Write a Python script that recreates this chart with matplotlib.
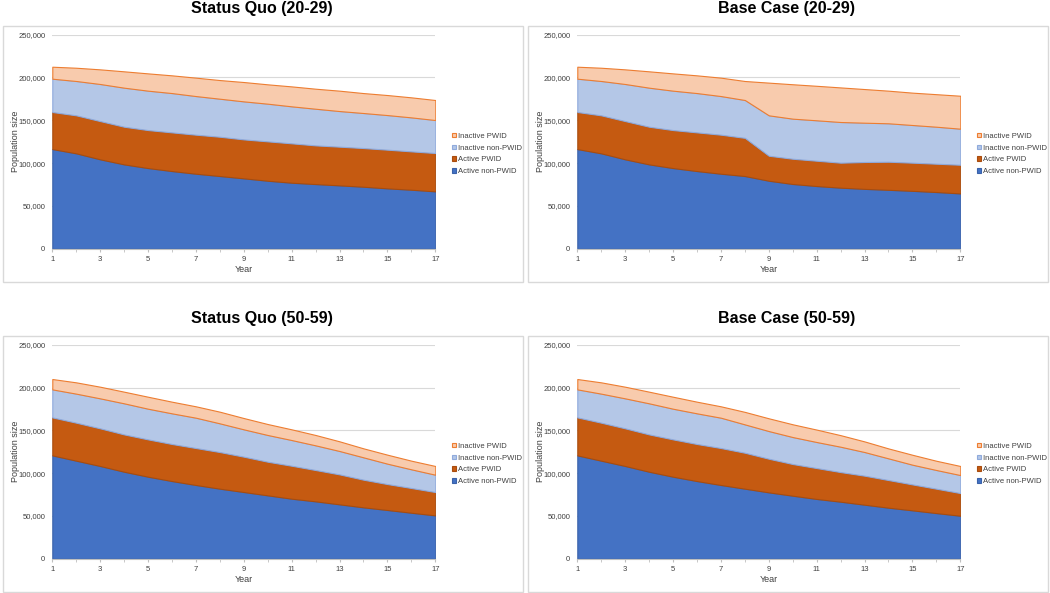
import matplotlib.pyplot as plt
from matplotlib.patches import Patch, Rectangle
from matplotlib.ticker import FuncFormatter, MultipleLocator

plt.rcParams['font.family'] = ['Liberation Sans', 'DejaVu Sans']

years = list(range(1, 18))
series_names = ["Active non-PWID", "Active PWID", "Inactive non-PWID", "Inactive PWID"]

# Status Quo (20-29)
sq_young_act_non = [116400, 111400, 104400, 98500, 94200, 90700, 87600, 84900, 82200,
                    79400, 77100, 75500, 74000, 72400, 70500, 68900, 67000]
sq_young_act_pwid = [43300, 44400, 44700, 44000, 44400, 45200, 45600, 45900, 45500,
                     46000, 46000, 45200, 45200, 45200, 45200, 44800, 44800]
sq_young_inact_non = [38900, 40100, 43300, 45600, 46000, 45900, 45100, 44400, 44400,
                      44000, 43200, 42800, 41600, 40900, 40400, 39700, 38500]
sq_young_inact_pwid = [14000, 15500, 17100, 19100, 20200, 20700, 21500, 21800, 22600,
                       22600, 23300, 23400, 23800, 23300, 23400, 23400, 23400]

# Base Case (20-29)
bc_young_act_non = [116400, 111400, 104400, 98500, 94200, 90700, 87600, 84900, 79400,
                    75600, 73200, 71300, 69900, 68800, 67600, 66200, 64600]
bc_young_act_pwid = [43300, 44400, 44700, 44000, 44400, 45200, 45600, 44600, 29200,
                     29500, 29600, 29200, 31400, 32800, 32900, 33100, 33500]
bc_young_inact_non = [38900, 40100, 43300, 45600, 46000, 45900, 45100, 44200, 47200,
                      46800, 47200, 47500, 45900, 44900, 44000, 43200, 42100]
bc_young_inact_pwid = [14000, 15500, 17100, 19100, 20200, 20700, 21500, 22200, 38200,
                       40200, 40300, 40400, 39300, 38100, 37800, 38000, 38500]

# Status Quo (50-59)
sq_old_act_non = [120700, 114500, 108300, 101600, 95800, 90700, 86100, 81800, 77900,
                  74000, 70100, 67000, 63500, 60000, 56900, 53700, 50600]
sq_old_act_pwid = [44400, 44400, 44000, 43600, 43600, 43300, 43200, 42800, 41300,
                   39300, 38500, 36600, 35000, 32300, 30300, 28900, 27300]
sq_old_inact_non = [32700, 33900, 35000, 36300, 35800, 35800, 35400, 33500, 31900,
                    31200, 30000, 28800, 27300, 26100, 23800, 21800, 20200]
sq_old_inact_pwid = [12100, 13200, 13600, 13600, 14000, 13600, 13300, 13600, 13200,
                     12800, 12500, 12100, 11300, 10500, 10500, 10100, 10200]

# Base Case (50-59)
bc_old_act_non = [120700, 114500, 108300, 101600, 95800, 90700, 86100, 81800, 77500,
                  73600, 69800, 66600, 63100, 59600, 56500, 53300, 50200]
bc_old_act_pwid = [44400, 44400, 44000, 43600, 43600, 43300, 43200, 42000, 39300,
                   37000, 36100, 34600, 33900, 32300, 30300, 28500, 26500]
bc_old_inact_non = [32700, 33900, 35000, 36300, 35800, 35800, 35400, 33100, 32300,
                    31500, 30400, 29600, 27600, 25300, 23000, 21800, 21000]
bc_old_inact_pwid = [12100, 13200, 13600, 13600, 14000, 13600, 13300, 14600, 14900,
                     14900, 14500, 13500, 12400, 11600, 11600, 10800, 10600]

fills = ["#4472C4", "#C55A11", "#B4C7E7", "#F8CBAD"]
edges = ["#3A62AA", "#A84C0E", "#8FAADC", "#ED7D31"]

W, H = 1050, 593
fig = plt.figure(figsize=(10.5, 5.93), dpi=100)


def px(x, y, w, h):
    return [x / W, 1 - (y + h) / H, w / W, h / H]


panels = [
    (0, 0, "Status Quo (20-29)",
     [sq_young_act_non, sq_young_act_pwid, sq_young_inact_non, sq_young_inact_pwid]),
    (525, 0, "Base Case (20-29)",
     [bc_young_act_non, bc_young_act_pwid, bc_young_inact_non, bc_young_inact_pwid]),
    (0, 310, "Status Quo (50-59)",
     [sq_old_act_non, sq_old_act_pwid, sq_old_inact_non, sq_old_inact_pwid]),
    (525, 310, "Base Case (50-59)",
     [bc_old_act_non, bc_old_act_pwid, bc_old_inact_non, bc_old_inact_pwid]),
]

for ox, oy, title, data in panels:
    # panel frame
    fig.add_artist(Rectangle(((ox + 2.5) / W, 1 - (oy + 281.5) / H), 520 / W, 255.5 / H,
                             transform=fig.transFigure, fill=False,
                             edgecolor="#D9D9D9", linewidth=1))
    fig.text((ox + 262) / W, 1 - (oy + 9) / H, title, ha="center", va="center",
             fontsize=11.5, fontweight="bold")

    ax = fig.add_axes(px(ox + 52.3, oy + 34.7, 383, 214))
    polys = ax.stackplot(years, *data, colors=fills)
    for p, ec in zip(polys, edges):
        p.set_edgecolor(ec)
        p.set_linewidth(0.8)

    ax.set_xlim(1, 17)
    ax.set_ylim(0, 250000)
    ax.set_xticks(range(1, 18, 2))
    ax.xaxis.set_minor_locator(MultipleLocator(1))
    ax.set_yticks(range(0, 250001, 50000))
    ax.yaxis.set_major_formatter(FuncFormatter(lambda v, p: f"{int(v):,}"))
    ax.tick_params(axis="y", length=0, pad=5, labelsize=5.5, labelcolor="#404040")
    ax.tick_params(axis="x", which="both", length=2.5, color="#BFBFBF", pad=2.5,
                   labelsize=5.5, labelcolor="#404040")
    ax.grid(axis="y", color="#D9D9D9", linewidth=0.8)
    ax.set_axisbelow(True)
    for s in ["top", "right", "left"]:
        ax.spines[s].set_visible(False)
    ax.spines["bottom"].set_color("#BFBFBF")
    ax.spines["bottom"].set_linewidth(0.8)
    ax.set_xlabel("Year", fontsize=6.5, color="#404040", labelpad=2)
    ax.set_ylabel("Population size", fontsize=6.5, color="#404040")
    ax.yaxis.set_label_coords(-0.085, 0.5)

    handles = [Patch(facecolor=f, edgecolor=e, linewidth=0.8, label=n)
               for f, e, n in zip(fills, edges, series_names)][::-1]
    fig.legend(handles=handles, loc="center left",
               bbox_to_anchor=((ox + 448) / W, 1 - (oy + 154) / H),
               frameon=False, fontsize=5.5, handlelength=0.55, handleheight=0.55,
               handletextpad=0.25, labelspacing=0.62, borderpad=0, labelcolor="#404040")

fig.savefig("out.png", dpi=100)
